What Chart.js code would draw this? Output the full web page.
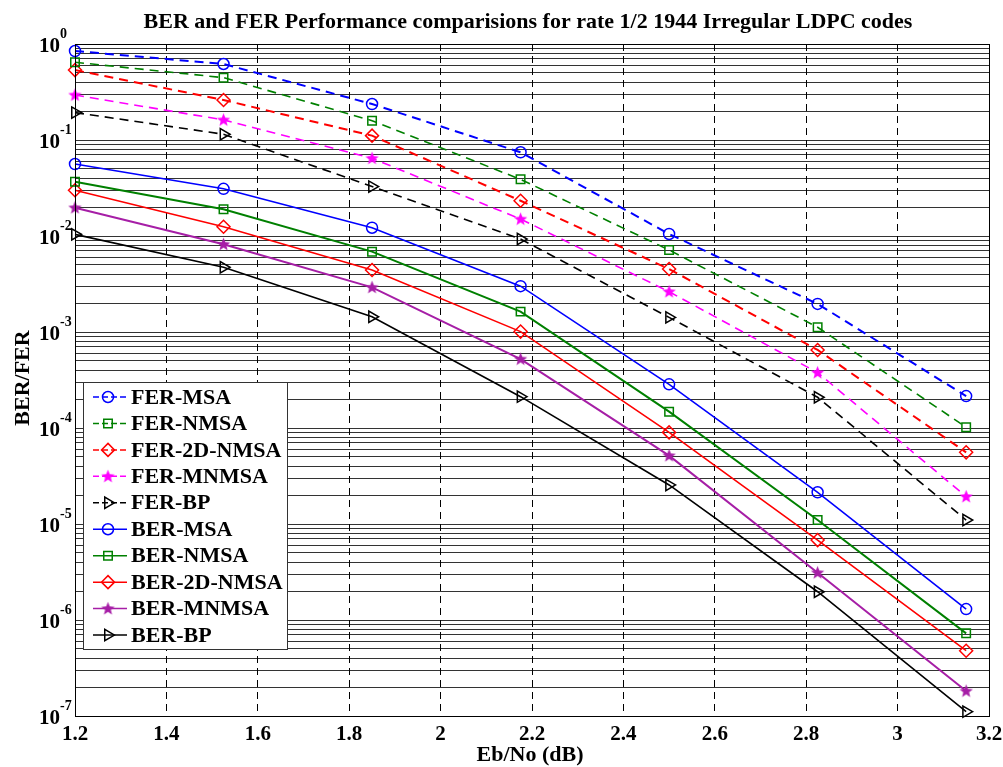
<!DOCTYPE html>
<html>
<head>
<meta charset="utf-8">
<script src="https://cdn.jsdelivr.net/npm/chart.js@4.4.1/dist/chart.umd.min.js"></script>
<style>
  html, body { margin: 0; padding: 0; background: #fff; }
  #wrap { width: 1003px; height: 767px; }
</style>
</head>
<body>
<div id="wrap"><canvas id="c" width="1003" height="767"></canvas></div>
<script>
// Eb/No points (dB)
const ebno = [1.2, 1.525, 1.85, 2.175, 2.5, 2.825, 3.15]

// frame error rate
const ferMSA = [0.845, 0.619, 0.237, 0.0745, 0.0105, 0.00196, 2.15e-4]
const ferNMSA = [0.645, 0.446, 0.159, 0.0389, 0.00715, 0.00112, 1.02e-4]
const fer2DNMSA = [0.535, 0.261, 0.111, 0.0233, 0.00453, 6.5e-4, 5.58e-5]
const ferMNMSA = [0.294, 0.162, 0.0645, 0.0150, 0.00263, 3.77e-4, 1.93e-5]
const ferBP = [0.193, 0.1148, 0.0327, 0.0093, 0.00142, 2.09e-4, 1.10e-5]

// bit error rate
const berMSA = [0.0562, 0.031, 0.0122, 0.0030, 2.85e-4, 2.14e-5, 1.30e-6]
const berNMSA = [0.0368, 0.019, 0.00687, 0.00163, 1.48e-4, 1.10e-5, 7.26e-7]
const ber2DNMSA = [0.030, 0.0125, 0.00442, 0.00101, 9.0e-5, 6.8e-6, 4.79e-7]
const berMNMSA = [0.0197, 0.0082, 0.00292, 5.22e-4, 5.15e-5, 3.11e-6, 1.82e-7]
const berBP = [0.0104, 0.00472, 0.00144, 2.12e-4, 2.55e-5, 1.97e-6, 1.11e-7]

const xTicks = [1.2, 1.4, 1.6, 1.8, 2, 2.2, 2.4, 2.6, 2.8, 3, 3.2]
const xTickLabels = ['1.2', '1.4', '1.6', '1.8', '2', '2.2', '2.4', '2.6', '2.8', '3', '3.2']
const yExps = [0, -1, -2, -3, -4, -5, -6, -7]

const SERIF = '"Liberation Serif", "Times New Roman", serif'

// filled pentagram marker, like matlab 'p'
function makeStar(color) {
    const cv = document.createElement('canvas')
    cv.width = 15
    cv.height = 15
    const g = cv.getContext('2d')
    g.beginPath()
    for (let i = 0; i < 10; i++) {
        const r = i % 2 === 0 ? 7 : 3
        const a = -Math.PI / 2 + i * Math.PI / 5
        const px = 7.5 + r * Math.cos(a)
        const py = 7.8 + r * Math.sin(a)
        if (i === 0) g.moveTo(px, py)
        else g.lineTo(px, py)
    }
    g.closePath()
    g.fillStyle = color
    g.fill()
    return cv
}

const pts = (ys) => ebno.map((x, i) => ({ x: x, y: ys[i] }))

function series(label, ys, color, dashed, style, extra) {
    return Object.assign({
        label: label,
        data: pts(ys),
        borderColor: color,
        backgroundColor: 'rgba(0,0,0,0)',
        borderWidth: 1.6,
        borderDash: dashed ? [9, 6] : [],
        pointStyle: style,
        pointRadius: 5.5,
        pointBorderWidth: 1.5,
        pointBorderColor: color,
        pointBackgroundColor: 'rgba(0,0,0,0)',
        pointRotation: 0,
        tension: 0,
        clip: false
    }, extra || {})
}

const datasets = [
    series('FER-MSA', ferMSA, '#0000ff', true, 'circle', { borderWidth: 2 }),
    series('FER-NMSA', ferNMSA, '#008000', true, 'rect', { pointRadius: 6 }),
    series('FER-2D-NMSA', fer2DNMSA, '#ff0000', true, 'rectRot', { pointRadius: 6.5, borderWidth: 2 }),
    series('FER-MNMSA', ferMNMSA, '#ff00ff', true, makeStar('#ff00ff')),
    series('FER-BP', ferBP, '#000000', true, 'triangle', { pointRadius: 6.5, pointRotation: 90 }),
    series('BER-MSA', berMSA, '#0000ff', false, 'circle'),
    series('BER-NMSA', berNMSA, '#008000', false, 'rect', { pointRadius: 6, borderWidth: 2 }),
    series('BER-2D-NMSA', ber2DNMSA, '#ff0000', false, 'rectRot', { pointRadius: 6.5 }),
    series('BER-MNMSA', berMNMSA, '#a61ea6', false, makeStar('#a61ea6'), { borderWidth: 2 }),
    series('BER-BP', berBP, '#000000', false, 'triangle', { pointRadius: 6.5, pointRotation: 90 })
]

function drawMarker(ctx, ds, x, y) {
    const style = ds.pointStyle
    const r = ds.pointRadius
    ctx.save()
    ctx.setLineDash([])
    ctx.strokeStyle = ds.pointBorderColor
    ctx.lineWidth = ds.pointBorderWidth
    if (typeof style !== 'string') {
        ctx.drawImage(style, x - style.width / 2, y - style.height / 2)
        ctx.restore()
        return
    }
    ctx.beginPath()
    if (style === 'circle') {
        ctx.arc(x, y, r, 0, Math.PI * 2)
    } else if (style === 'rect') {
        const s = r * Math.SQRT1_2
        ctx.rect(x - s, y - s, 2 * s, 2 * s)
    } else if (style === 'rectRot') {
        ctx.moveTo(x, y - r); ctx.lineTo(x + r, y); ctx.lineTo(x, y + r); ctx.lineTo(x - r, y); ctx.closePath()
    } else if (style === 'triangle') {
        ctx.moveTo(x + r, y); ctx.lineTo(x - r / 2, y - r * 0.866); ctx.lineTo(x - r / 2, y + r * 0.866); ctx.closePath()
    }
    ctx.stroke()
    ctx.restore()
}

const textPlugin = {
    id: 'matlabText',
    beforeDraw(chart) {
        const ctx = chart.ctx
        ctx.save()
        ctx.fillStyle = '#fff'
        ctx.fillRect(0, 0, chart.width, chart.height)
        ctx.restore()
    },
    afterDraw(chart) {
        const ctx = chart.ctx
        const area = chart.chartArea
        const xs = chart.scales.x
        const ys = chart.scales.y
        ctx.save()
        // plot frame
        ctx.strokeStyle = '#000'
        ctx.lineWidth = 1
        ctx.setLineDash([])
        ctx.strokeRect(Math.round(area.left) + 0.5, Math.round(area.top) + 0.5,
            Math.round(area.right - area.left), Math.round(area.bottom - area.top))

        ctx.fillStyle = '#000'
        // title
        ctx.font = 'bold 22px ' + SERIF
        ctx.textAlign = 'center'
        ctx.textBaseline = 'alphabetic'
        ctx.fillText('BER and FER Performance comparisions for rate 1/2 1944 Irregular LDPC codes', 528, 28)

        // x tick labels
        ctx.font = 'bold 21px ' + SERIF
        xTicks.forEach((v, i) => {
            ctx.fillText(xTickLabels[i], xs.getPixelForValue(v), 740)
        })
        // x title
        ctx.font = 'bold 22px ' + SERIF
        ctx.fillText('Eb/No (dB)', 530, 761)

        // y tick labels 10^n
        yExps.forEach(n => {
            const py = ys.getPixelForValue(Math.pow(10, n))
            ctx.textAlign = 'right'
            ctx.font = 'bold 21px ' + SERIF
            ctx.fillText('10', 60, py + 8)
            ctx.textAlign = 'left'
            ctx.font = 'bold 14px ' + SERIF
            ctx.fillText(n === 0 ? '0' : '-' + Math.abs(n), 60, py - 6)
        })

        // y title
        ctx.save()
        ctx.translate(29, 378)
        ctx.rotate(-Math.PI / 2)
        ctx.textAlign = 'center'
        ctx.font = 'bold 22px ' + SERIF
        ctx.fillText('BER/FER', 0, 0)
        ctx.restore()

        // legend box
        const lx = 83, ly = 382, lw = 204, lh = 267
        ctx.fillStyle = '#fff'
        ctx.fillRect(lx, ly, lw, lh)
        ctx.strokeStyle = '#333'
        ctx.lineWidth = 1
        ctx.strokeRect(lx + 0.5, ly + 0.5, lw, lh)
        chart.data.datasets.forEach((ds, i) => {
            const cy = 397 + i * 26.45
            ctx.save()
            ctx.strokeStyle = ds.borderColor
            ctx.lineWidth = 1.5
            ctx.setLineDash(ds.borderDash.length ? [6, 3] : [])
            ctx.beginPath()
            ctx.moveTo(93, cy)
            ctx.lineTo(127, cy)
            ctx.stroke()
            ctx.restore()
            drawMarker(ctx, ds, 108, cy)
            ctx.fillStyle = '#000'
            ctx.textAlign = 'left'
            ctx.textBaseline = 'middle'
            ctx.font = 'bold 22px ' + SERIF
            ctx.fillText(ds.label, 131, cy + 1)
        })
        ctx.restore()
    }
}

new Chart(document.getElementById('c').getContext('2d'), {
    type: 'line',
    data: { datasets: datasets },
    options: {
        responsive: false,
        animation: false,
        layout: { padding: { left: 75, top: 44, right: 14, bottom: 51 } },
        plugins: {
            legend: { display: false },
            title: { display: false },
            tooltip: { enabled: false }
        },
        scales: {
            x: {
                type: 'linear',
                min: 1.2,
                max: 3.2,
                afterBuildTicks: (scale) => { scale.ticks = xTicks.map(v => ({ value: v })) },
                ticks: { display: false },
                grid: { color: '#000', lineWidth: 1, drawTicks: false },
                border: { display: false, dash: [7, 5] }
            },
            y: {
                type: 'logarithmic',
                min: 1e-7,
                max: 1,
                afterBuildTicks: (scale) => {
                    const t = []
                    yExps.slice().reverse().forEach(n => {
                        for (let k = 1; k <= 9; k++) {
                            if (n === 0 && k > 1) break
                            t.push({ value: k * Math.pow(10, n) })
                        }
                    })
                    scale.ticks = t
                },
                ticks: { display: false },
                grid: { color: 'rgba(0,0,0,0.8)', lineWidth: 1, drawTicks: false },
                border: { display: false }
            }
        }
    },
    plugins: [textPlugin]
})
</script>
</body>
</html>
